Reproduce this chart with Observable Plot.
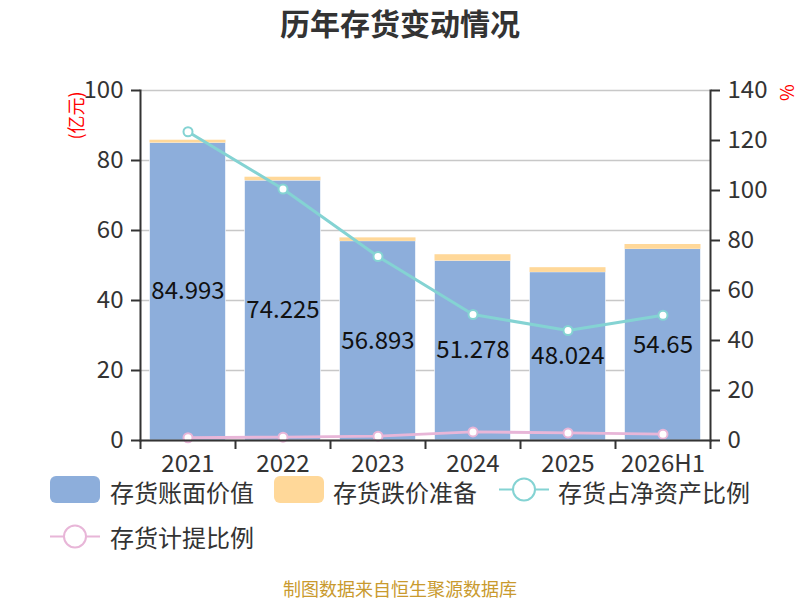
<!DOCTYPE html>
<html>
<head>
<meta charset="utf-8">
<script src="https://cdn.jsdelivr.net/npm/d3@7"></script>
<script src="https://cdn.jsdelivr.net/npm/@observablehq/plot@0.6"></script>
<style>
  body { margin: 0; background: #fff; font-family: "Noto Sans CJK SC", "Noto Sans", sans-serif; }
  #wrap { position: relative; width: 800px; height: 600px; overflow: hidden; }
  #title { position: absolute; left: 0; top: 3px; width: 800px; text-align: center; font-size: 30px; font-weight: bold; color: #333; line-height: 38px; }
  #chart { position: absolute; left: 0; top: 50px; }
  .lg { position: absolute; font-size: 24px; color: #333; line-height: 26px; white-space: nowrap; }
  .sw { position: absolute; width: 50px; height: 27px; border-radius: 6px; }
  #foot { position: absolute; left: 0; top: 577px; width: 800px; text-align: center; font-size: 18px; color: #c99a2e; line-height: 22px; }
</style>
</head>
<body>
<div id="wrap">
  <div id="title">历年存货变动情况</div>
  <div id="chart"></div>
  <div class="sw" style="left:50px;top:476px;background:#8daedb"></div>
  <div class="lg" style="left:110px;top:479px">存货账面价值</div>
  <div class="sw" style="left:274px;top:476px;background:#ffd899"></div>
  <div class="lg" style="left:333px;top:479px">存货跌价准备</div>
  <svg class="lg" style="left:497px;top:476px" width="54" height="27"><line x1="2" x2="52" y1="13.5" y2="13.5" stroke="#84d3d3" stroke-width="2"/><circle cx="27" cy="13.5" r="11" fill="#fff" stroke="#84d3d3" stroke-width="2"/></svg>
  <div class="lg" style="left:558px;top:479px">存货占净资产比例</div>
  <svg class="lg" style="left:48px;top:523px" width="54" height="27"><line x1="2" x2="52" y1="13.5" y2="13.5" stroke="#e8b6d8" stroke-width="2"/><circle cx="27" cy="13.5" r="11" fill="#fff" stroke="#e8b6d8" stroke-width="2"/></svg>
  <div class="lg" style="left:110px;top:524px">存货计提比例</div>
  <div id="foot">制图数据来自恒生聚源数据库</div>
</div>
<script>
const years = ["2021", "2022", "2023", "2024", "2025", "2026H1"];
const bookValue = [84.993, 74.225, 56.893, 51.278, 48.024, 54.65];
const reserve = [0.8, 1.0, 1.0, 1.8, 1.35, 1.35];
const netAssetPct = [123.5, 100.6, 73.6, 50.4, 44.0, 50.1];
const provisionPct = [1.1, 1.35, 1.75, 3.45, 3.05, 2.55];
const leftTicks = [0, 20, 40, 60, 80, 100];
const rightTicks = [0, 20, 40, 60, 80, 100, 120, 140];

const leftMax = 100, rightMax = 140;
const k = leftMax / rightMax;
const data = years.map((y, i) => ({i, year: y, book: bookValue[i], res: reserve[i], p1: netAssetPct[i], p2: provisionPct[i]}));
const bounds = d3.range(-0.5, years.length, 1);
const half = 0.4;
const font = "Noto Sans CJK SC, Noto Sans, sans-serif";

const chart = Plot.plot({
  width: 800,
  height: 440,
  marginLeft: 140,
  marginRight: 90,
  marginTop: 40,
  marginBottom: 50,
  style: {fontSize: "24px", fontFamily: font, color: "#333", background: "transparent"},
  x: {domain: [-0.5, years.length - 0.5], axis: null},
  y: {domain: [0, leftMax], axis: null},
  marks: [
    Plot.gridY(leftTicks, {stroke: "#c8c8c8", strokeOpacity: 1, strokeWidth: 1.5}),
    Plot.rectY(data, {x1: d => d.i - half, x2: d => d.i + half, y1: 0, y2: "book", fill: "#8daedb", stroke: "#fff", strokeWidth: 0.6}),
    Plot.rectY(data, {x1: d => d.i - half, x2: d => d.i + half, y1: "book", y2: d => d.book + d.res, fill: "#ffd899"}),
    Plot.text(data, {x: "i", y: d => d.book / 2, text: d => String(d.book), fill: "#111", fontSize: 24}),
    Plot.line(data, {x: "i", y: d => d.p1 * k, stroke: "#84d3d3", strokeWidth: 3}),
    Plot.dot(data, {x: "i", y: d => d.p1 * k, r: 4.5, fill: "#fff", stroke: "#84d3d3", strokeWidth: 2}),
    Plot.line(data, {x: "i", y: d => d.p2 * k, stroke: "#e8b6d8", strokeWidth: 3}),
    Plot.dot(data, {x: "i", y: d => d.p2 * k, r: 4.5, fill: "#fff", stroke: "#e8b6d8", strokeWidth: 2}),
    Plot.axisY({ticks: leftTicks, tickSize: 9, tickPadding: 8, stroke: "#333", strokeWidth: 2, fontSize: 24, label: null}),
    Plot.axisY({anchor: "right", ticks: rightTicks.map(v => v * k), tickFormat: v => Math.round(v / k), tickSize: 9, tickPadding: 8, stroke: "#333", strokeWidth: 2, fontSize: 24, label: null}),
    Plot.axisX({ticks: bounds, tickFormat: () => "", tickSize: 9, stroke: "#333", strokeWidth: 2, label: null}),
    Plot.axisX({ticks: d3.range(years.length), tickFormat: i => years[i], tickSize: 0, tickPadding: 14, fontSize: 24, label: null}),
    Plot.frame({anchor: "left", stroke: "#333", strokeWidth: 2}),
    Plot.frame({anchor: "right", stroke: "#333", strokeWidth: 2}),
    Plot.frame({anchor: "bottom", stroke: "#333", strokeWidth: 2}),
    Plot.text(["(亿元)"], {frameAnchor: "top-left", dx: -63, dy: 25, rotate: -90, textAnchor: "middle", lineAnchor: "middle", fill: "#ff0000", fontSize: 18}),
    Plot.text(["%"], {frameAnchor: "top-right", dx: 75, dy: 2, rotate: 90, textAnchor: "middle", lineAnchor: "middle", fill: "#ff0000", fontSize: 18})
  ]
});
document.getElementById("chart").appendChild(chart);
</script>
</body>
</html>
